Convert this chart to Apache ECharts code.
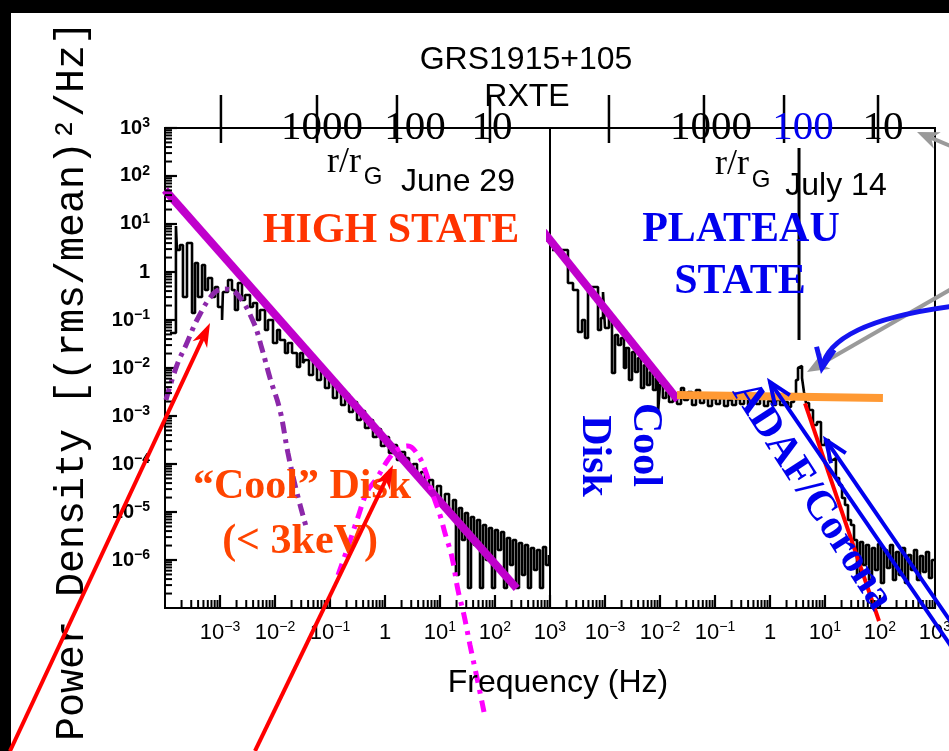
<!DOCTYPE html>
<html>
<head>
<meta charset="utf-8">
<title>GRS1915+105 RXTE power spectra</title>
<script src="https://cdn.jsdelivr.net/npm/echarts@6.0.0/dist/echarts.min.js"></script>
<style>
html, body { margin: 0; padding: 0; background: #000; }
#chart { width: 949px; height: 751px; }
</style>
</head>
<body>
<div id="chart"></div>
<script>
// Axis ranges: frequency in Hz, power density in (rms/mean)^2/Hz.
// The power maximum sits just under 10^3 so the log scale keeps one tick per decade.
const FREQ_MIN = 1e-4, FREQ_MAX = 1e3;
const POW_MIN = 1e-7, POW_MAX = 999;

// Decades and in-between multipliers used for the minor log ticks
const freqDecades = [1e-4, 1e-3, 1e-2, 1e-1, 1, 10, 100];
const powerDecades = [1e-7, 1e-6, 1e-5, 1e-4, 1e-3, 1e-2, 1e-1, 1, 10, 100];
const minorSteps = [2, 3, 4, 5, 6, 7, 8, 9];

// June 29 (high state) spectrum, histogram bins: start frequency / power
const juneFreq = [
  1.23e-4, 1.58e-4, 1.65e-4, 1.87e-4, 2.12e-4, 2.51e-4, 3.10e-4, 3.51e-4, 3.98e-4, 4.71e-4,
  5.34e-4, 6.05e-4, 7.16e-4, 8.11e-4, 9.2e-4, 1.09e-3, 1.13e-3, 1.40e-3, 1.65e-3, 1.87e-3,
  2.12e-3, 2.51e-3, 2.85e-3, 3.51e-3, 3.98e-3, 4.71e-3, 5.34e-3, 6.58e-3, 7.46e-3, 9.2e-3,
  0.0109, 0.0123, 0.0152, 0.0172, 0.0204, 0.0251, 0.0285, 0.0323,
  0.0351, 0.0415, 0.0491, 0.058, 0.0686, 0.0811, 0.0959, 0.113, 0.134, 0.159,
  0.188, 0.222, 0.262, 0.31, 0.366, 0.433, 0.512, 0.605, 0.715, 0.845,
  1.0, 1.18, 1.40, 1.65, 1.95, 2.31, 2.73, 3.23, 3.82, 4.51,
  5.34, 6.31, 7.46, 8.81, 10.4, 12.3, 14.6, 17.2,
  19.5, 22.1, 25.1, 28.5, 32.3, 36.6, 41.5, 47.1, 53.4, 60.5, 68.6, 77.8, 88.1, 100, 113, 129,
  146, 165, 188, 212, 241, 273, 310, 351, 398, 451, 512, 580, 658, 746, 845, 959
];
const junePower = [
  0.0536, 9.08, 2.87, 3.65, 0.301, 4.02, 0.14, 1.54, 0.301, 1.40,
  0.422, 0.75, 0.301, 0.487, 0.187, 0.1, 0.383, 0.681, 0.422, 0.161,
  0.59, 0.261, 0.332, 0.187, 0.226, 0.1, 0.161, 0.0619, 0.1, 0.0332,
  0.0619, 0.0383, 0.0205, 0.0332, 0.0205, 0.0105, 0.0205, 0.0127,
  0.0147, 7.15e-3, 0.0133, 5.62e-3, 0.01, 3.83e-3, 6.49e-3, 2.37e-3, 4.22e-3, 1.69e-3,
  2.87e-3, 1.21e-3, 1.96e-3, 8.25e-4, 1.27e-3, 5.62e-4, 8.25e-4, 3.65e-4, 5.36e-4, 2.37e-4,
  3.65e-4, 1.69e-4, 2.49e-4, 1.21e-4, 1.78e-4, 1.33e-4, 7.5e-5, 1.0e-4, 5.11e-5, 6.81e-5,
  3.16e-5, 4.64e-5, 2.26e-5, 3.48e-5, 1.40e-5, 2.37e-5, 8.66e-6, 1.78e-5,
  4.87e-7, 1.21e-5, 2.61e-6, 9.53e-6, 2.61e-7, 7.87e-6, 2.05e-6, 6.81e-6, 2.61e-7, 5.36e-6,
  1.0e-6, 4.64e-6, 2.61e-7, 4.22e-6, 1.61e-6, 3.83e-6,
  2.61e-7, 2.87e-6, 7.87e-7, 2.61e-6, 2.61e-7, 2.26e-6, 4.87e-7, 2.05e-6, 2.61e-7, 1.78e-6,
  6.19e-7, 1.61e-6, 2.61e-7, 1.87e-6, 7.87e-7, 1.27e-6
];

// June 29 broad power-law fit
const juneFitFreq = [1e-4, 248];
const juneFitPower = [51.1, 2.57e-7];

// June 29 low-frequency component (dark purple dash-dot)
const juneLowFreq = [1.04e-4, 1.65e-4, 2.41e-4, 3.98e-4, 7.78e-4, 1.23e-3, 2.04e-3, 3.98e-3, 5.80e-3, 8.11e-3, 0.0123, 0.0172, 0.0251, 0.0382];
const juneLowPower = [2.15e-3, 0.0115, 0.0301, 0.110, 0.365, 0.442, 0.348, 0.0953, 0.0249, 6.19e-3, 1.33e-3, 1.69e-4, 2.49e-5, 4.22e-6];

// June 29 "cool" disk component (magenta dash-dot)
const juneDiskFreq = [0.14, 0.212, 0.323, 0.471, 0.715, 1.13, 1.65, 2.62, 3.98, 5.34, 7.46, 10, 12.3, 16.5, 21.2, 27.3, 35.1, 47.1, 63.1];
const juneDiskPower = [4.87e-7, 1.87e-6, 7.87e-6, 2.61e-5, 5.11e-5, 1.21e-4, 1.96e-4, 2.37e-4, 1.54e-4, 7.5e-5, 2.26e-5, 8.66e-6, 3.65e-6, 1.15e-6, 2.37e-7, 7.15e-8, 1.69e-8, 3.48e-9, 6.81e-10];

// July 14 (plateau state) spectrum, histogram bins
const julyFreq = [
  1.09e-4, 2.12e-4, 2.62e-4, 3.23e-4, 3.82e-4, 4.33e-4, 4.91e-4, 7.46e-4, 8.45e-4, 9.2e-4,
  1.0e-3, 1.18e-3, 1.34e-3, 1.52e-3, 1.72e-3, 1.95e-3, 2.21e-3, 2.41e-3, 2.73e-3, 3.10e-3,
  3.51e-3, 3.98e-3, 4.51e-3, 5.12e-3, 5.80e-3, 6.58e-3, 7.46e-3, 8.45e-3, 9.2e-3, 0.01,
  0.0113, 0.0129,
  0.0146, 0.0172, 0.0204, 0.0241, 0.0273, 0.0323, 0.0382, 0.0451, 0.0534, 0.0631,
  0.0746, 0.0881, 0.104, 0.123, 0.146, 0.172, 0.204, 0.241, 0.285, 0.337,
  0.398, 0.471, 0.557, 0.658, 0.778, 0.92, 1.09, 1.29, 1.52, 1.80, 2.12, 2.41,
  2.73, 2.97, 3.23, 3.51, 3.82, 4.15, 4.51,
  5.12, 6.05, 7.15, 8.45, 10, 11.8, 14.0, 15.8, 18.0, 20.4, 23.1, 26.2, 29.7, 33.7,
  38.2, 43.3, 49.1, 55.6, 63.1, 71.5, 81.1, 92.0, 104, 118, 134, 152, 172, 195,
  221, 251, 285, 323, 366, 415, 471, 534, 605, 686, 778, 881, 1000
];
const julyPower = [
  2.87, 0.59, 0.422, 0.0562, 0.1, 0.0422, 0.487, 0.0619, 0.11, 0.383,
  0.0681, 0.11, 7.87e-3, 0.0487, 0.0301, 0.0422, 0.01, 0.0261, 5.62e-3, 0.0215,
  8.25e-3, 0.0162, 3.83e-3, 0.0115, 4.42e-3, 8.25e-3, 3.48e-3, 6.19e-3, 1.15e-3, 4.42e-3,
  2.37e-3, 3.16e-3,
  1.96e-3, 2.61e-3, 1.78e-3, 3.83e-3, 2.15e-3, 3.16e-3, 1.69e-3, 3.48e-3, 1.87e-3, 2.37e-3,
  1.61e-3, 2.26e-3, 1.78e-3, 2.37e-3, 1.61e-3, 2.15e-3, 1.69e-3, 2.26e-3, 1.78e-3, 2.49e-3,
  1.69e-3, 2.15e-3, 1.78e-3, 2.37e-3, 1.61e-3, 2.05e-3, 1.69e-3, 2.15e-3, 1.69e-3, 1.96e-3, 1.54e-3, 1.96e-3,
  2.74e-3, 5.62e-3, 0.01, 0.011, 6.19e-3, 3.16e-3, 1.87e-3,
  1.33e-3, 6.49e-4, 7.5e-4, 2.49e-4, 3.16e-4, 1.21e-4, 1.33e-4, 5.11e-5, 3.65e-5, 1.96e-5, 1.40e-5, 6.81e-6, 5.36e-6, 2.61e-6,
  4.87e-7, 2.37e-6, 7.87e-7, 2.05e-6, 3.83e-7, 1.78e-6, 6.19e-7, 2.15e-6, 3.32e-7, 1.61e-6, 6.81e-7, 2.05e-6, 3.83e-7, 1.47e-6,
  4.87e-7, 1.78e-6, 3.32e-7, 1.27e-6, 6.19e-7, 1.61e-6, 3.83e-7, 1.21e-6, 5.62e-7, 1.47e-6, 4.22e-7, 1.0e-6, 1.0e-6
];

// July 14 fits: low-frequency power law, flat plateau, high-frequency cut-off
const julyLowFitFreq = [5.33e-5, 0.0212];
const julyLowFitPower = [11.5, 2.15e-3];
const julyPlateauFreq = [0.0204, 113];
const julyPlateauPower = [2.74e-3, 2.37e-3];
const julyCutFreq = [4.33, 95.9];
const julyCutPower = [1.84e-3, 5.36e-8];

// QPO marker line
const qpoFreq = [3.37, 3.37];
const qpoPower = [383, 0.0383];

// Radius scale r/r_G drawn along the top edge
const rTickFreqJune = [1.04e-3, 0.058, 1.65, 81];
const rTickFreqJuly = [1.18e-3, 0.063, 1.8, 92];
const rLabelText = ['1000', '100', '10'];
const rLabelFreqJune = [0.0715, 3.5, 88];
const rLabelFreqJuly = [0.085, 4.0, 113];
const rLabelColorJune = ['#000', '#000', '#000'];
const rLabelColorJuly = ['#000', '#0000ee', '#000'];

// Annotation arrows: [tail freq, tail power, head freq, head power]
const juneRedArrows = [
  [1.52e-7, 1.05e-10, 6.58e-4, 0.0866],
  [4.33e-3, 1.05e-10, 1.40, 9.53e-5]
];
const julyBlueArrows = [
  [2311, 1.21e-8, 1.0, 5.11e-3],
  [2311, 3.83e-8, 10.4, 3.16e-4]
];
const julyGrayArrows = [
  [2848, 0.562, 4.71, 8.25e-3],
  [2848, 348, 471, 825]
];
// Curved arrow: start, control point, head
const julyCurvedArrow = [[2311, 0.196, 12.3, 0.0908, 8.82, 0.01]];

const SANS = "'Liberation Sans', Arial, sans-serif";
const SERIF = "'Liberation Serif', 'Times New Roman', serif";
const MONO = "'Liberation Mono', 'Courier New', monospace";

const pairs = (xs, ys) => xs.map((x, i) => [x, ys[i]]);
const minorValues = decades => decades.reduce((acc, d) => acc.concat(minorSteps.map(m => m * d)), []);

function expLabel(value, skip) {
  const n = Math.round(Math.log10(value));
  if (skip.indexOf(n) >= 0) return '';
  if (n === 0) return '{b|1}';
  return '{b|10}{s|' + String(n).replace('-', '\u2212') + '}';
}

function freqAxis(gridIndex) {
  return {
    type: 'log', logBase: 10, gridIndex: gridIndex, position: 'bottom',
    min: FREQ_MIN, max: FREQ_MAX, splitNumber: 7,
    axisLine: { show: true, onZero: false, lineStyle: { color: '#000', width: 2 } },
    axisTick: { show: true, inside: true, length: 13, lineStyle: { color: '#000', width: 2.2 } },
    minorTick: { show: false },
    splitLine: { show: false }, minorSplitLine: { show: false },
    axisLabel: {
      show: true, margin: 12, showMinLabel: false, showMaxLabel: true, hideOverlap: false,
      formatter: v => expLabel(v, [-4]),
      rich: {
        b: { fontFamily: SANS, fontSize: 22, lineHeight: 26, color: '#000' },
        s: { fontFamily: SANS, fontSize: 14, lineHeight: 8, verticalAlign: 'top', color: '#000' }
      }
    }
  };
}

function powerAxis(gridIndex, showLabels) {
  return {
    type: 'log', logBase: 10, gridIndex: gridIndex, position: 'left',
    min: POW_MIN, max: POW_MAX, splitNumber: 10,
    axisLine: { show: showLabels, onZero: false, lineStyle: { color: '#000', width: 2 } },
    axisTick: { show: showLabels, inside: true, length: 12, lineStyle: { color: '#000', width: 2.2 } },
    minorTick: { show: false },
    splitLine: { show: false }, minorSplitLine: { show: false },
    axisLabel: {
      show: showLabels, margin: 15, showMinLabel: false, showMaxLabel: true, hideOverlap: false,
      formatter: v => expLabel(v, [-7]),
      rich: {
        b: { fontFamily: SANS, fontWeight: 'bold', fontSize: 20, lineHeight: 24, color: '#000' },
        s: { fontFamily: SANS, fontWeight: 'bold', fontSize: 14, lineHeight: 10, verticalAlign: 'top', color: '#000' }
      }
    }
  };
}

function lineSeries(gridIndex, xs, ys, style, extra) {
  return Object.assign({
    type: 'line', xAxisIndex: gridIndex, yAxisIndex: gridIndex,
    data: pairs(xs, ys), symbol: 'none', silent: true,
    lineStyle: style, itemStyle: { color: style.color }
  }, extra || {});
}

// Inward minor ticks: frequency ticks along the bottom edge,
// optional power ticks along the left edge of the panel.
function minorTickSeries(gridIndex, freqTicks, powerTicks) {
  return {
    type: 'custom', xAxisIndex: gridIndex, yAxisIndex: gridIndex, clip: false, z: 9,
    data: [[1, 1]], encode: { x: 0, y: 1 },
    renderItem: (params, api) => {
      const cs = params.coordSys;
      const bottom = cs.y + cs.height, left = cs.x;
      const children = [];
      freqTicks.forEach(v => {
        const x = api.coord([v, 1])[0];
        children.push({ type: 'line', shape: { x1: x, y1: bottom, x2: x, y2: bottom - 8 },
          style: { stroke: '#000', lineWidth: 2 } });
      });
      powerTicks.forEach(v => {
        const y = api.coord([1, v])[1];
        children.push({ type: 'line', shape: { x1: left, y1: y, x2: left + 7, y2: y },
          style: { stroke: '#000', lineWidth: 2 } });
      });
      return { type: 'group', children: children };
    }
  };
}

function arrowShape(from, tip, color, width, len, half, open) {
  const dx = tip[0] - from[0], dy = tip[1] - from[1];
  const d = Math.hypot(dx, dy) || 1;
  const ux = dx / d, uy = dy / d, nx = -uy, ny = ux;
  const bx = tip[0] - ux * len, by = tip[1] - uy * len;
  const left = [bx + nx * half, by + ny * half];
  const right = [bx - nx * half, by - ny * half];
  if (open) {
    return [
      { type: 'line', shape: { x1: from[0], y1: from[1], x2: tip[0], y2: tip[1] }, style: { stroke: color, lineWidth: width } },
      { type: 'polyline', shape: { points: [left, tip, right] }, style: { stroke: color, lineWidth: width, fill: null } }
    ];
  }
  const neck = [tip[0] - ux * len * 0.7, tip[1] - uy * len * 0.7];
  return [
    { type: 'line', shape: { x1: from[0], y1: from[1], x2: neck[0], y2: neck[1] }, style: { stroke: color, lineWidth: width } },
    { type: 'polygon', shape: { points: [tip, left, neck, right] }, style: { fill: color } }
  ];
}

function arrowSeries(gridIndex, rows, color, width, len, half, open) {
  return {
    type: 'custom', xAxisIndex: gridIndex, yAxisIndex: gridIndex, clip: false, silent: true, z: 12,
    data: rows, encode: { x: [0, 2], y: [1, 3] },
    renderItem: (params, api) => {
      const tail = api.coord([api.value(0), api.value(1)]);
      const head = api.coord([api.value(2), api.value(3)]);
      return { type: 'group', children: arrowShape(tail, head, color, width, len, half, open) };
    }
  };
}

function curvedArrowSeries(gridIndex, rows, color, width) {
  return {
    type: 'custom', xAxisIndex: gridIndex, yAxisIndex: gridIndex, clip: false, silent: true, z: 12,
    data: rows, encode: { x: [0, 2, 4], y: [1, 3, 5] },
    renderItem: (params, api) => {
      const a = api.coord([api.value(0), api.value(1)]);
      const c = api.coord([api.value(2), api.value(3)]);
      const b = api.coord([api.value(4), api.value(5)]);
      const head = arrowShape(c, b, color, width, 20, 9, true)[1];
      return {
        type: 'group', children: [
          { type: 'bezierCurve', shape: { x1: a[0], y1: a[1], x2: b[0], y2: b[1], cpx1: c[0], cpy1: c[1] },
            style: { stroke: color, lineWidth: width, fill: null } },
          head
        ]
      };
    }
  };
}

function radiusTickSeries(gridIndex, freqs) {
  return {
    type: 'custom', xAxisIndex: gridIndex, yAxisIndex: gridIndex, clip: false, silent: true, z: 6,
    data: freqs.map(f => [f, POW_MAX]), encode: { x: 0, y: 1 },
    renderItem: (params, api) => {
      const p = api.coord([api.value(0), api.value(1)]);
      return { type: 'line', shape: { x1: p[0], y1: p[1] - 33, x2: p[0], y2: p[1] + 15 },
        style: { stroke: '#000', lineWidth: 2.5 } };
    }
  };
}

function radiusLabelSeries(gridIndex, freqs, colors) {
  return {
    type: 'custom', xAxisIndex: gridIndex, yAxisIndex: gridIndex, clip: false, silent: true, z: 7,
    data: freqs.map((f, i) => [f, POW_MAX, i]), encode: { x: 0, y: 1 },
    renderItem: (params, api) => {
      const p = api.coord([api.value(0), api.value(1)]);
      const i = api.value(2);
      return { type: 'text', x: p[0], y: p[1],
        style: { text: rLabelText[i], fill: colors[i], font: '41px ' + SERIF,
          align: 'center', verticalAlign: 'middle', textAlign: 'center', textVerticalAlign: 'middle' } };
    }
  };
}

function label(text, x, y, font, fill, rotation) {
  return {
    type: 'text', x: x, y: y, rotation: rotation || 0, z: 10, silent: true,
    style: { text: text, font: font, fill: fill,
      align: 'center', verticalAlign: 'middle', textAlign: 'center', textVerticalAlign: 'middle' }
  };
}

const chart = echarts.init(document.getElementById('chart'), null, { renderer: 'canvas', width: 949, height: 751 });

chart.setOption({
  animation: false,
  backgroundColor: '#000',
  grid: [
    { left: 165, top: 128, width: 385, height: 480, show: true, borderColor: '#000', borderWidth: 2,
      backgroundColor: 'transparent', containLabel: false, outerBoundsMode: 'none' },
    { left: 550, top: 128, width: 385, height: 480, show: true, borderColor: '#000', borderWidth: 2,
      backgroundColor: 'transparent', containLabel: false, outerBoundsMode: 'none' }
  ],
  xAxis: [freqAxis(0), freqAxis(1)],
  yAxis: [powerAxis(0, true), powerAxis(1, false)],
  series: [
    lineSeries(0, juneFreq, junePower, { color: '#000', width: 2.6 }, { step: 'end', z: 2 }),
    lineSeries(1, julyFreq, julyPower, { color: '#000', width: 2.6 }, { step: 'end', z: 2 }),
    lineSeries(0, juneFitFreq, juneFitPower, { color: '#c000cc', width: 8 }, { z: 4 }),
    lineSeries(0, juneLowFreq, juneLowPower, { color: '#8c28aa', width: 5, type: [12, 6, 4, 6] }, { smooth: 0.4, z: 5 }),
    lineSeries(0, juneDiskFreq, juneDiskPower, { color: '#ff00ff', width: 5, type: [12, 7, 4, 7] }, { smooth: 0.4, z: 5, clip: false }),
    lineSeries(1, julyLowFitFreq, julyLowFitPower, { color: '#c000cc', width: 8 }, { z: 4, clip: false }),
    lineSeries(1, julyPlateauFreq, julyPlateauPower, { color: '#ff9933', width: 8 }, { z: 4 }),
    lineSeries(1, julyCutFreq, julyCutPower, { color: '#ff0000', width: 4 }, { z: 6, clip: false }),
    lineSeries(1, qpoFreq, qpoPower, { color: '#000', width: 3 }, { z: 3 }),
    minorTickSeries(0, minorValues(freqDecades), minorValues(powerDecades)),
    minorTickSeries(1, minorValues(freqDecades), []),
    arrowSeries(0, juneRedArrows, '#ff0000', 4, 24, 8, false),
    arrowSeries(1, julyBlueArrows, '#0000ee', 4, 22, 9, true),
    arrowSeries(1, julyGrayArrows, '#9a9a9a', 4, 22, 9, false),
    curvedArrowSeries(1, julyCurvedArrow, '#1414f0', 5),
    radiusTickSeries(0, rTickFreqJune),
    radiusTickSeries(1, rTickFreqJuly),
    radiusLabelSeries(0, rLabelFreqJune, rLabelColorJune),
    radiusLabelSeries(1, rLabelFreqJuly, rLabelColorJuly)
  ],
  graphic: [
    { type: 'rect', z: -100, silent: true, shape: { x: 11, y: 13, width: 938, height: 738 }, style: { fill: '#fff' } },
    label('Power Density [(rms/mean)\u00b2/Hz]', 72, 381, '40px ' + MONO, '#000', Math.PI / 2),
    label('GRS1915+105', 526, 60, '32px ' + SANS, '#000'),
    label('RXTE', 527, 97, '32px ' + SANS, '#000'),
    label('June 29', 458, 182, '32px ' + SANS, '#000'),
    label('July 14', 836, 186, '32px ' + SANS, '#000'),
    label('Frequency (Hz)', 558, 683, '32px ' + SANS, '#000'),
    label('r/r', 344, 163, '36px ' + SERIF, '#000'),
    label('G', 373, 177, '24px ' + SANS, '#000'),
    label('r/r', 732, 165, '36px ' + SERIF, '#000'),
    label('G', 761, 180, '24px ' + SANS, '#000'),
    label('HIGH STATE', 391, 231, 'bold 42px ' + SERIF, '#ff3300'),
    label('PLATEAU', 741, 230, 'bold 42px ' + SERIF, '#0000ee'),
    label('STATE', 740, 282, 'bold 42px ' + SERIF, '#0000ee'),
    label('\u201cCool\u201d Disk', 302, 487, 'bold 42px ' + SERIF, '#ff4400'),
    label('(< 3keV)', 300, 542, 'bold 42px ' + SERIF, '#ff4400'),
    label('Cool', 645, 445, 'bold 42px ' + SERIF, '#0000ee', -Math.PI / 2),
    label('Disk', 594, 456, 'bold 42px ' + SERIF, '#0000ee', -Math.PI / 2),
    label('ADAF/Corona', 812, 496, 'bold 42px ' + SERIF, '#0000ee', -0.998)
  ]
});
</script>
</body>
</html>
